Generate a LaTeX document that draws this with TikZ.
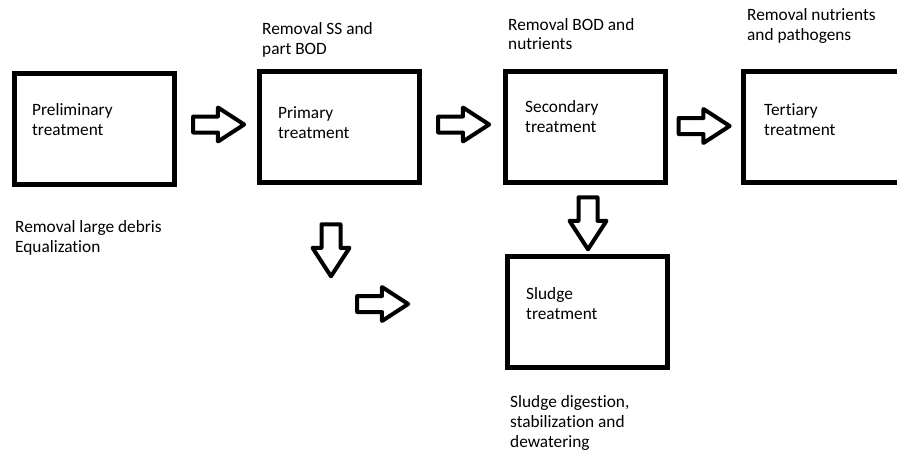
\documentclass[tikz,border=0pt]{standalone}
\usepackage{fontspec}
\setmainfont{Carlito}[Ligatures=NoCommon]
\usetikzlibrary{shapes.arrows}
\tikzset{
 caixa/.style={draw, line width=5pt, minimum width=160pt, minimum height=111pt, inner sep=0pt},
 seta/.style={single arrow, draw, line width=4pt, line join=round, inner xsep=0pt, inner ysep=6pt,
  single arrow head extend=9pt, single arrow tip angle=66, minimum height=51pt},
 setabaixo/.style={seta, inner xsep=7.5pt, inner ysep=0pt, minimum height=52pt, shape border rotate=270},
 texto/.style={align=left, inner sep=0pt, anchor=base west, font=\fontsize{17.3}{20}\selectfont},
}
\begin{document}
\begin{tikzpicture}[x=1pt,y=-1pt]
 \useasboundingbox (0,0) rectangle (897,452);
 \clip (0,0) rectangle (897,452);
%caixas das etapas
 \node[caixa] (prelim) at (94.5,129) {};
 \node[caixa] (prim) at (339.5,127) {};
 \node[caixa] (sec) at (585,127) {};
 \node[caixa] (ter) at (823,127) {};%sai pela direita
 \node[caixa] (lodo) at (587.5,312) {};
%textos dentro das caixas (base na ultima linha)
 \node[texto] (tprelim) at (32,135.5) {Preliminary\\treatment};
 \node[texto] (tprim) at (278,138) {Primary\\treatment};
 \node[texto] (tsec) at (525,132) {Secondary\\treatment};
 \node[texto] (tter) at (764,135) {Tertiary\\treatment};
 \node[texto] (tlodo) at (526,319) {Sludge\\treatment};
%textos de fora
 \node[texto] (lprelim) at (15,252) {Removal large debris\\Equalization};
 \node[texto] (lprim) at (262,54.5) {Removal SS and\\part BOD};
 \node[texto] (lsec) at (508,50) {Removal BOD and\\nutrients};
 \node[texto] (lter) at (747,41) {Removal nutrients\\and pathogens};
 \node[texto] (llodo) at (510,447) {Sludge digestion,\\stabilization and\\dewatering};
%setas grossas
 \node[seta] (s1) at (212.5,124.5) {};
 \node[seta] (s2) at (457.5,124.5) {};
 \node[seta] (s3) at (698,126) {};
 \node[setabaixo] (s4) at (588,216) {};
 \node[setabaixo] (s5) at (331,243) {};
 \node[seta] (s6) at (376.5,304) {};
\end{tikzpicture}
\end{document}
